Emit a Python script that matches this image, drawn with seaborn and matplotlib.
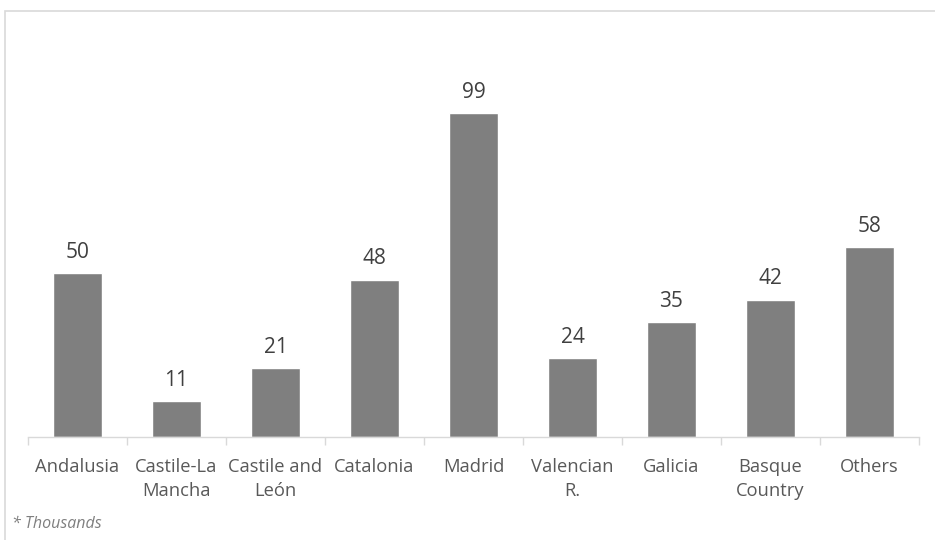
import numpy as np
import pandas as pd
import matplotlib.pyplot as plt
import seaborn as sns
from matplotlib.patches import Rectangle

# Data
regions = ["Andalusia", "Castile-La\nMancha", "Castile and\nLeón", "Catalonia", "Madrid",
           "Valencian\nR.", "Galicia", "Basque\nCountry", "Others"]
values = [50, 11, 21, 48, 99, 24, 35, 42, 58]

df = pd.DataFrame({"region": regions, "value": values})

sns.set_theme(style="white")
plt.rcParams['font.family'] = ['Open Sans', 'DejaVu Sans']

fig = plt.figure(figsize=(9.35, 5.40), dpi=100)
ax = fig.add_axes([28 / 935, 1 - 437 / 540, 891 / 935, 407 / 540])

sns.barplot(data=df, x="region", y="value", color="#7f7f7f", saturation=1,
            width=0.5, ax=ax)

ax.set_ylim(0, 124.4)
ax.set_xlim(-0.5, len(regions) - 0.5)

# value labels
for i, v in enumerate(values):
    ax.text(i, v + 3.2, str(v), ha="center", va="bottom", fontsize=15, color="#404040")

# axes styling
for s in ["top", "right", "left"]:
    ax.spines[s].set_visible(False)
ax.spines["bottom"].set_color("#d9d9d9")
ax.spines["bottom"].set_linewidth(1)
ax.set_yticks([])
ax.set_xlabel("")
ax.set_ylabel("")
ax.tick_params(axis="x", length=0, labelsize=13.2, labelcolor="#595959", pad=15)
for lbl in ax.get_xticklabels():
    lbl.set_linespacing(1.45)

# tick marks between categories
ax.set_xticks(np.arange(len(regions) + 1) - 0.5, minor=True)
ax.tick_params(axis="x", which="minor", length=6, color="#d9d9d9", width=1, bottom=True)

# figure border
fig.patches.append(Rectangle((5 / 935, -0.01), 1, 1.01 - 11 / 540, transform=fig.transFigure,
                             fill=False, edgecolor="#d9d9d9", linewidth=1.2))

fig.text(12 / 935, 1 - 524 / 540, "* Thousands", fontsize=11.5, style="italic",
         color="#7f7f7f", ha="left", va="center")

fig.savefig("out.png", dpi=100)
